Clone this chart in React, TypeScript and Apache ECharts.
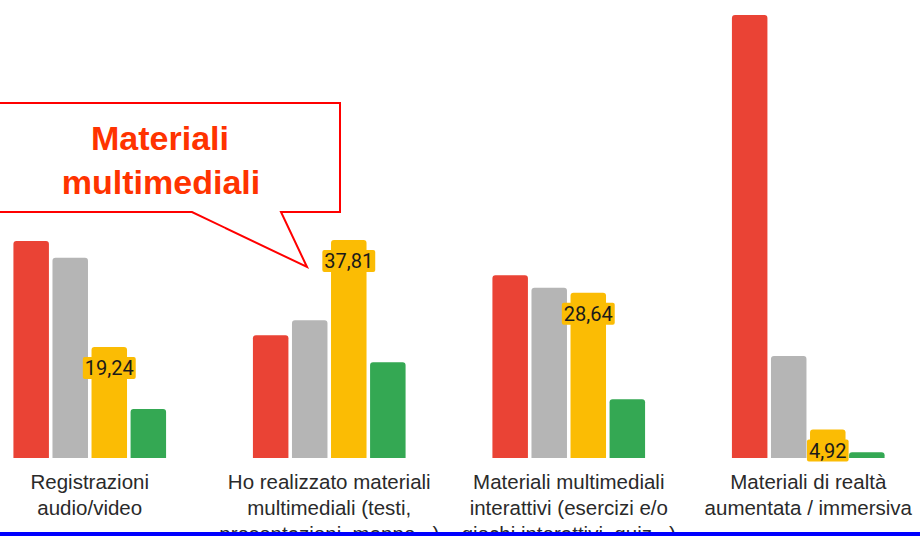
import React, { useEffect, useRef } from "react";
import * as echarts from "echarts";

const categories = [
  "Registrazioni\naudio/video",
  "Ho realizzato materiali\nmultimediali (testi,\npresentazioni, mappe...)",
  "Materiali multimediali\ninterattivi (esercizi e/o\ngiochi interattivi, quiz...)",
  "Materiali di realtà\naumentata / immersiva",
];
const redValues = [37.6, 21.3, 31.7, 76.8];
const grayValues = [34.7, 23.9, 29.5, 17.7];
const yellowValues = [19.24, 37.81, 28.64, 4.92];
const greenValues = [8.5, 16.6, 10.2, 1.0];
const calloutLines = ["Materiali", "multimediali"];

const SHIFT = 30;

export default function App() {
  const ref = useRef<HTMLDivElement>(null);
  useEffect(() => {
    if (!ref.current) return;
    const chart = echarts.init(ref.current, null, { renderer: "svg" });
    const barBase = {
      type: "bar" as const,
      barWidth: 35.5,
      barGap: "10%",
      itemStyle: { borderRadius: [3, 3, 0, 0] },
    };
    chart.setOption({
      animation: false,
      backgroundColor: "#ffffff",
      grid: {
        left: 0,
        right: 0,
        top: 0,
        bottom: 78,
        containLabel: false,
        outerBoundsMode: "none",
      },
      xAxis: {
        type: "category",
        data: categories,
        axisLine: { show: false },
        axisTick: { show: false },
        axisLabel: {
          interval: 0,
          margin: 10,
          fontSize: 20.5,
          lineHeight: 26,
          color: "#2a2a2a",
          fontFamily: "'Liberation Sans', Arial, sans-serif",
          align: "center",
        },
      },
      yAxis: {
        type: "value",
        min: 0,
        max: 79.4,
        show: false,
        splitLine: { show: false },
      },
      series: [
        { ...barBase, name: "red", data: redValues, itemStyle: { ...barBase.itemStyle, color: "#ea4335" } },
        { ...barBase, name: "gray", data: grayValues, itemStyle: { ...barBase.itemStyle, color: "#b5b5b5" } },
        {
          ...barBase,
          name: "yellow",
          data: yellowValues,
          itemStyle: { ...barBase.itemStyle, color: "#fbbc04" },
          label: {
            show: true,
            position: "insideTop",
            distance: 10,
            formatter: (p: any) => String(p.value).replace(".", ","),
            fontSize: 20,
            fontFamily: "Roboto",
            color: "#1a1a1a",
            backgroundColor: "#fbbc04",
            padding: [1, 2],
            borderRadius: 2,
          },
        },
        { ...barBase, name: "green", data: greenValues, itemStyle: { ...barBase.itemStyle, color: "#34a853" } },
      ],
      graphic: [
        {
          type: "polygon",
          z: 100,
          shape: {
            points: [
              [-5 + SHIFT, 103],
              [340 + SHIFT, 103],
              [340 + SHIFT, 212],
              [281 + SHIFT, 212],
              [307 + SHIFT, 267],
              [192 + SHIFT, 212],
              [-5 + SHIFT, 212],
            ],
          },
          style: { fill: "#ffffff", stroke: "#ff0000", lineWidth: 2 },
        },
        {
          type: "text",
          z: 101,
          x: 160 + SHIFT,
          y: 138,
          style: {
            text: calloutLines[0],
            fill: "#ff3300",
            font: "bold 34px 'Liberation Sans', Arial, sans-serif",
            textAlign: "center",
            textVerticalAlign: "middle",
          },
        },
        {
          type: "text",
          z: 101,
          x: 161 + SHIFT,
          y: 182,
          style: {
            text: calloutLines[1],
            fill: "#ff3300",
            font: "bold 34px 'Liberation Sans', Arial, sans-serif",
            textAlign: "center",
            textVerticalAlign: "middle",
          },
        },
        {
          type: "rect",
          z: 110,
          shape: { x: SHIFT, y: 532, width: 920, height: 4 },
          style: { fill: "#0000ff" },
        },
      ],
    });
    return () => chart.dispose();
  }, []);
  return (
    <div
      ref={ref}
      style={{ position: "fixed", left: -SHIFT, top: 0, width: 958, height: 536 }}
    />
  );
}
